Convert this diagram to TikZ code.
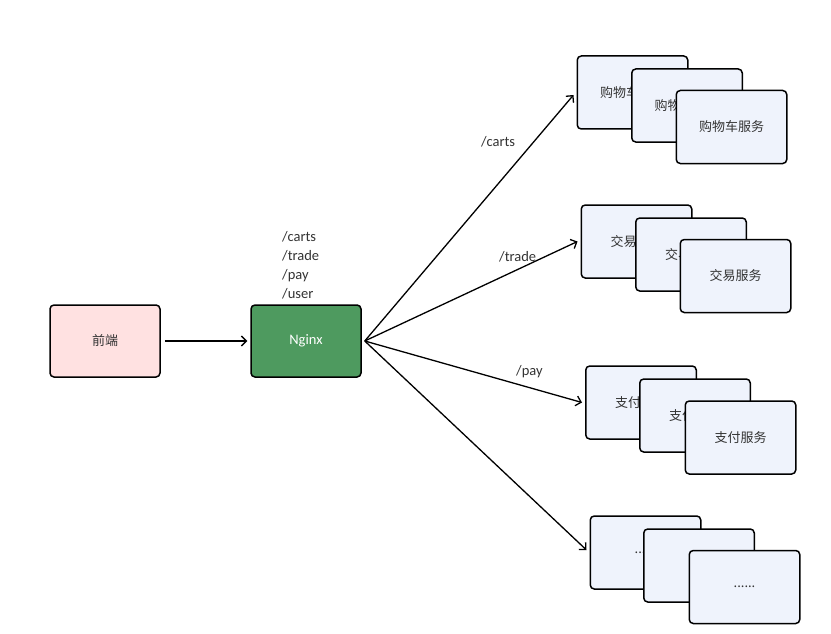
\documentclass[tikz,border=0pt]{standalone}
\usepackage{fontspec}
\setmainfont{Carlito}
\newfontfamily\cjk{Noto Sans CJK SC}
\usetikzlibrary{arrows.meta}
\definecolor{pinkfill}{HTML}{FFE1E1}
\definecolor{greenfill}{HTML}{4E9A5F}
\definecolor{bluefill}{HTML}{EFF3FC}
\definecolor{txt}{HTML}{333333}
\tikzset{
  base/.style={draw=black, line width=1.5pt, rounded corners=4pt, minimum width=110pt, minimum height=72pt, inner sep=0pt, font=\fontsize{13}{15}\selectfont\cjk, text=txt},
  svc/.style={base, fill=bluefill, minimum width=110.5pt, minimum height=73pt},
  arr/.style={draw=black, line width=1.3pt, -{Straight Barb[length=5pt,width=10pt]}},
  lbl/.style={font=\fontsize{14.5}{17}\selectfont, text=txt, anchor=west, inner sep=0pt}
}
\begin{document}
\begin{tikzpicture}[x=1pt,y=-1pt]
\useasboundingbox[fill=white] (0,0) rectangle (831,634);
\node[base, fill=pinkfill] (fe) at (105,341) {前端};
\node[base, fill=greenfill, text=white, font=\fontsize{14.5}{17}\selectfont] (ng) at (306,341) {Nginx};
\node[lbl, align=left, anchor=south west, font=\fontsize{14.5}{19}\selectfont] (paths) at (282,299) {/carts\\/trade\\/pay\\/user};

% carts
\node[svc] (c1) at (632.5,92.5) {购物车服务};
\node[svc] (c2) at (687,105.5) {购物车服务};
\node[svc] (c3) at (731.5,127) {购物车服务};
% trade
\node[svc] (t1) at (636.5,241.5) {交易服务};
\node[svc] (t2) at (691,254.5) {交易服务};
\node[svc] (t3) at (735.5,276) {交易服务};
% pay
\node[svc] (p1) at (641,402.5) {支付服务};
\node[svc] (p2) at (695,415.5) {支付服务};
\node[svc] (p3) at (740.5,437.5) {支付服务};
% others
\node[svc] (o1) at (645.5,552.5) {......};
\node[svc] (o2) at (699,565.5) {......};
\node[svc] (o3) at (744.5,587) {......};

\draw[arr] ([xshift=4pt]fe.east) -- ([xshift=-3pt]ng.west);
\draw[arr] ([xshift=3pt]ng.east) -- ([xshift=-3pt,yshift=-2.5pt]c1.west);
\draw[arr] ([xshift=3pt]ng.east) -- ([xshift=-3pt]t1.west);
\draw[arr] ([xshift=3pt]ng.east) -- ([xshift=-3pt]p1.west);
\draw[arr] ([xshift=3pt]ng.east) -- ([xshift=-3pt,yshift=2.5pt]o1.west);

\node[lbl] (lc) at (481,141.5) {/carts};
\node[lbl] (lt) at (499,256.5) {/trade};
\node[lbl] (lp) at (516,371.5) {/pay};
\end{tikzpicture}
\end{document}
